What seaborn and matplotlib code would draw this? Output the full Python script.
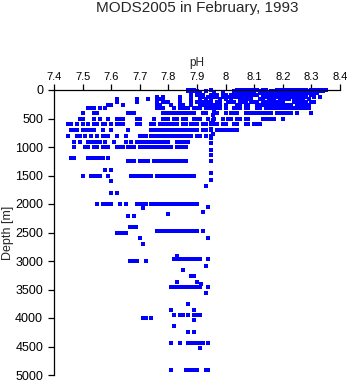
import matplotlib
matplotlib.use("Agg")
import matplotlib.pyplot as plt
import seaborn as sns
import pandas as pd

title = "MODS2005 in February, 1993"
x_label = "pH"
y_label = "Depth [m]"
x_ticks = [7.4, 7.5, 7.6, 7.7, 7.8, 7.9, 8.0, 8.1, 8.2, 8.3, 8.4]
x_tick_labels = ["7.4", "7.5", "7.6", "7.7", "7.8", "7.9", "8", "8.1", "8.2", "8.3", "8.4"]
y_ticks = [0, 500, 1000, 1500, 2000, 2500, 3000, 3500, 4000, 4500, 5000]

# pH observations per sampled depth (m)
ph_d0005 = [7.87, 7.88, 7.89, 7.95, 8.04, 8.05, 8.06, 8.07, 8.08, 8.09, 8.10, 8.11, 8.13, 8.14,
            8.18, 8.19, 8.20, 8.21, 8.22, 8.23, 8.24, 8.25, 8.26, 8.27, 8.28, 8.30, 8.31, 8.32,
            8.33, 8.34, 8.35]
ph_d0025 = [7.87, 7.89, 7.90, 7.93, 8.03, 8.04, 8.06, 8.07, 8.08, 8.09, 8.10, 8.12, 8.13, 8.14,
            8.16, 8.17, 8.18, 8.19, 8.20, 8.21, 8.22, 8.23, 8.24, 8.25, 8.26, 8.27, 8.28, 8.29,
            8.30, 8.31, 8.32, 8.33, 8.34]
ph_d0055 = [7.88, 7.90, 7.91, 7.96, 7.99, 8.03, 8.04, 8.05, 8.07, 8.08, 8.09, 8.10, 8.12, 8.13,
            8.15, 8.16, 8.17, 8.18, 8.19, 8.20, 8.21, 8.22, 8.23, 8.24, 8.25, 8.26, 8.27, 8.28,
            8.29, 8.31, 8.32]
ph_d0085 = [7.90, 7.92, 7.95, 7.97, 8.00, 8.02, 8.04, 8.05, 8.06, 8.07, 8.08, 8.10, 8.11, 8.13,
            8.14, 8.15, 8.16, 8.17, 8.18, 8.19, 8.20, 8.21, 8.22, 8.23, 8.24, 8.25, 8.26, 8.28, 8.30]
ph_d0125 = [7.76, 7.78, 7.84, 7.88, 7.91, 7.92, 7.94, 7.96, 7.97, 7.99, 8.00, 8.01, 8.02, 8.03,
            8.04, 8.08, 8.09, 8.13, 8.14, 8.16, 8.17, 8.18, 8.19, 8.20, 8.21, 8.22, 8.23, 8.24,
            8.25, 8.26, 8.27, 8.28, 8.31, 8.33]
ph_d0160 = [7.62, 7.69, 7.73, 7.76, 7.77, 7.78, 7.84, 7.88, 7.91, 7.93, 7.95, 7.98, 8.00, 8.02,
            8.05, 8.06, 8.07, 8.08, 8.09, 8.12, 8.13, 8.15, 8.16, 8.17, 8.19, 8.20, 8.21, 8.22,
            8.24, 8.25, 8.26, 8.27, 8.29]
ph_d0205 = [7.62, 7.69, 7.76, 7.78, 7.79, 7.80, 7.84, 7.88, 7.90, 7.91, 7.92, 7.93, 7.94, 7.95,
            7.97, 7.98, 8.01, 8.02, 8.03, 8.05, 8.06, 8.07, 8.09, 8.10, 8.11, 8.13, 8.14, 8.15,
            8.16, 8.17, 8.18, 8.19, 8.20, 8.24, 8.25, 8.26, 8.27, 8.28, 8.30, 8.31]
ph_d0260 = [7.59, 7.60, 7.64, 7.76, 7.77, 7.81, 7.84, 7.85, 7.88, 7.91, 7.92, 7.93, 7.94, 7.95,
            7.96, 7.97, 7.98, 8.00, 8.04, 8.05, 8.07, 8.08, 8.11, 8.12, 8.13, 8.14, 8.15, 8.16,
            8.17, 8.18, 8.19, 8.20, 8.21, 8.22, 8.23, 8.25, 8.26, 8.27, 8.28, 8.29]
ph_d0310 = [7.52, 7.53, 7.54, 7.56, 7.58, 7.76, 7.77, 7.78, 7.82, 7.84, 7.85, 7.86, 7.87, 7.89,
            7.90, 7.91, 7.93, 7.94, 7.95, 7.96, 7.97, 7.98, 8.00, 8.03, 8.04, 8.05, 8.07, 8.08,
            8.11, 8.12, 8.14, 8.15, 8.16, 8.17, 8.18, 8.19, 8.20, 8.21, 8.22, 8.23, 8.24, 8.25,
            8.26, 8.27, 8.28, 8.29]
ph_d0410 = [7.50, 7.54, 7.55, 7.66, 7.67, 7.68, 7.78, 7.79, 7.80, 7.81, 7.82, 7.83, 7.84, 7.85,
            7.86, 7.87, 7.88, 7.89, 7.92, 7.93, 7.96, 7.97, 8.00, 8.02, 8.03, 8.04, 8.07, 8.08,
            8.09, 8.10, 8.11, 8.12, 8.13, 8.14, 8.15, 8.16, 8.18, 8.19, 8.20, 8.21, 8.22, 8.23,
            8.25, 8.30]
ph_d0505 = [7.49, 7.50, 7.54, 7.56, 7.59, 7.62, 7.63, 7.64, 7.69, 7.70, 7.75, 7.78, 7.79, 7.80,
            7.82, 7.83, 7.85, 7.86, 7.89, 7.90, 7.91, 7.94, 7.96, 7.99, 8.01, 8.02, 8.04, 8.05,
            8.07, 8.08, 8.13, 8.14, 8.15, 8.16, 8.17, 8.20]
ph_d0600 = [7.45, 7.46, 7.48, 7.50, 7.52, 7.54, 7.55, 7.57, 7.58, 7.60, 7.62, 7.63, 7.64, 7.69,
            7.70, 7.74, 7.75, 7.77, 7.78, 7.79, 7.80, 7.81, 7.82, 7.83, 7.85, 7.86, 7.88, 7.89,
            7.90, 7.92, 7.93, 7.95, 7.96, 7.97, 7.99, 8.00, 8.03, 8.04, 8.07, 8.08, 8.10, 8.11, 8.12]
ph_d0700 = [7.46, 7.47, 7.48, 7.50, 7.51, 7.52, 7.53, 7.54, 7.57, 7.60, 7.66, 7.74, 7.75, 7.76,
            7.77, 7.78, 7.79, 7.80, 7.81, 7.82, 7.83, 7.84, 7.85, 7.86, 7.87, 7.88, 7.89, 7.90,
            7.92, 7.93, 7.95, 7.97, 7.98, 7.99, 8.00, 8.01, 8.02, 8.03, 8.04]
ph_d0805 = [7.45, 7.48, 7.49, 7.51, 7.53, 7.55, 7.57, 7.58, 7.59, 7.62, 7.65, 7.70, 7.71, 7.72,
            7.74, 7.75, 7.76, 7.77, 7.78, 7.79, 7.80, 7.81, 7.82, 7.83, 7.84, 7.85, 7.86, 7.87,
            7.88, 7.90, 7.91, 7.93, 7.95]
ph_d0905 = [7.47, 7.49, 7.52, 7.53, 7.54, 7.55, 7.56, 7.58, 7.61, 7.65, 7.67, 7.69, 7.70, 7.71,
            7.72, 7.73, 7.74, 7.75, 7.76, 7.77, 7.78, 7.79, 7.80, 7.83, 7.84, 7.85, 7.86, 7.87]
ph_d1005 = [7.47, 7.51, 7.52, 7.54, 7.55, 7.57, 7.58, 7.59, 7.62, 7.63, 7.64, 7.66, 7.67, 7.68,
            7.70, 7.71, 7.72, 7.73, 7.74, 7.75, 7.76, 7.77, 7.78, 7.79, 7.80, 7.81, 7.83, 7.84,
            7.85, 7.86]
ph_d1200 = [7.46, 7.47, 7.52, 7.53, 7.54, 7.55, 7.56, 7.57, 7.59]
ph_d1245 = [7.66, 7.67, 7.68, 7.70, 7.71, 7.72, 7.73, 7.75, 7.76, 7.77, 7.78, 7.79, 7.80, 7.81,
            7.82, 7.83, 7.84, 7.85, 7.86, 7.95]
ph_d1400 = [7.58, 7.60]
ph_d1500 = [7.50, 7.53, 7.54, 7.55, 7.56, 7.59, 7.67, 7.68, 7.69, 7.70, 7.71, 7.72, 7.73, 7.74,
            7.76, 7.77, 7.78, 7.79, 7.80, 7.81, 7.82, 7.83, 7.84, 7.85, 7.86, 7.87, 7.88, 7.89]
ph_d1595 = [7.60]
ph_d1680 = [7.93]
ph_d1805 = [7.60, 7.62]
ph_d1995 = [7.55, 7.57, 7.58, 7.59, 7.60, 7.63, 7.65, 7.69, 7.70, 7.71, 7.72, 7.74, 7.75, 7.76,
            7.77, 7.78, 7.79, 7.80, 7.81, 7.82, 7.83, 7.84, 7.85, 7.86, 7.87, 7.88, 7.89, 7.90]
ph_d2045 = [7.94]
ph_d2075 = [7.71]
ph_d2140 = [7.92]
ph_d2178 = [7.80]
ph_d2205 = [7.66, 7.68]
ph_d2400 = [7.665, 7.675, 7.685]
ph_d2470 = [7.76, 7.77, 7.78, 7.79, 7.80, 7.81, 7.82, 7.83, 7.84, 7.85, 7.86, 7.87, 7.88, 7.89,
            7.90, 7.92]
ph_d2500 = [7.62, 7.635, 7.645, 7.65]
ph_d2600 = [7.70, 7.94]
ph_d2710 = [7.71]
ph_d2905 = [7.83]
ph_d2962 = [7.82, 7.83, 7.84, 7.85, 7.86, 7.87, 7.88, 7.89, 7.90, 7.91, 7.94]
ph_d3000 = [7.665, 7.675, 7.685, 7.69, 7.72]
ph_d3080 = [7.93]
ph_d3155 = [7.85]
ph_d3255 = [7.88, 7.89]
ph_d3360 = [7.83, 7.90]
ph_d3410 = [7.915]
ph_d3450 = [7.81, 7.82, 7.83, 7.84, 7.85, 7.86, 7.87, 7.88, 7.89, 7.90, 7.91, 7.94]
ph_d3560 = [7.93]
ph_d3750 = [7.87]
ph_d3855 = [7.81, 7.89]
ph_d3945 = [7.82, 7.84, 7.85, 7.87, 7.89, 7.90, 7.91]
ph_d3995 = [7.71, 7.72, 7.74]
ph_d4040 = [7.89]
ph_d4135 = [7.82]
ph_d4245 = [7.87, 7.89]
ph_d4440 = [7.81, 7.84, 7.87, 7.88, 7.89, 7.90, 7.91, 7.92, 7.94]
ph_d4530 = [7.91]
ph_d4920 = [7.81, 7.86, 7.87, 7.88, 7.89, 7.90, 7.93, 7.94]

# single-station profile near pH 7.95
column_depth = [365, 430, 520, 585, 690, 765, 835, 935, 1050, 1140, 1460, 1577]
column_ph = [7.96, 7.955, 7.955, 7.95, 7.95, 7.955, 7.95, 7.95, 7.95, 7.95, 7.95, 7.95]

levels = [
    (5, ph_d0005), (25, ph_d0025), (55, ph_d0055), (85, ph_d0085), (125, ph_d0125),
    (160, ph_d0160), (205, ph_d0205), (260, ph_d0260), (310, ph_d0310), (410, ph_d0410),
    (505, ph_d0505), (600, ph_d0600), (700, ph_d0700), (805, ph_d0805), (905, ph_d0905),
    (1005, ph_d1005), (1200, ph_d1200), (1245, ph_d1245), (1400, ph_d1400), (1500, ph_d1500),
    (1595, ph_d1595), (1680, ph_d1680), (1805, ph_d1805), (1995, ph_d1995), (2045, ph_d2045),
    (2075, ph_d2075), (2140, ph_d2140), (2178, ph_d2178), (2205, ph_d2205), (2400, ph_d2400),
    (2470, ph_d2470), (2500, ph_d2500), (2600, ph_d2600), (2710, ph_d2710), (2905, ph_d2905),
    (2962, ph_d2962), (3000, ph_d3000), (3080, ph_d3080), (3155, ph_d3155), (3255, ph_d3255),
    (3360, ph_d3360), (3410, ph_d3410), (3450, ph_d3450), (3560, ph_d3560), (3750, ph_d3750),
    (3855, ph_d3855), (3945, ph_d3945), (3995, ph_d3995), (4040, ph_d4040), (4135, ph_d4135),
    (4245, ph_d4245), (4440, ph_d4440), (4530, ph_d4530), (4920, ph_d4920),
]

records = []
for depth, phs in levels:
    for v in phs:
        records.append({"pH": v, "Depth": depth})
for depth, v in zip(column_depth, column_ph):
    records.append({"pH": v, "Depth": depth})
df = pd.DataFrame(records)

sns.set_style("ticks")
plt.rcParams["font.family"] = ["Liberation Sans", "DejaVu Sans"]

fig = plt.figure(figsize=(3.5, 3.84), dpi=100)
ax = fig.add_axes([54 / 350, 9 / 384, 286 / 350, 285 / 384])

sns.scatterplot(data=df, x="pH", y="Depth", ax=ax, marker="s", s=6,
                color="#0000ff", linewidth=0, legend=False, clip_on=False)

ax.set_xlim(7.4, 8.4)
ax.set_ylim(5000, 0)
ax.xaxis.tick_top()
ax.xaxis.set_label_position("top")
ax.set_xticks(x_ticks)
ax.set_xticklabels(x_tick_labels)
ax.set_yticks(y_ticks)
ax.set_yticklabels([str(v) for v in y_ticks])

for side in ("right", "bottom"):
    ax.spines[side].set_visible(False)
for side in ("left", "top"):
    ax.spines[side].set_linewidth(0.9)
    ax.spines[side].set_color("black")

ax.tick_params(axis="x", direction="out", length=4.3, width=0.9, pad=1.5,
               labelsize=8, colors="black")
ax.tick_params(axis="y", direction="out", length=4.3, width=0.9, pad=3.5,
               labelsize=9, colors="black")

ax.set_xlabel(x_label, fontsize=8.5, labelpad=4)
ax.set_ylabel(y_label, fontsize=9, labelpad=1)
fig.text(197 / 350, 1 - 8 / 384, title, ha="center", va="center", fontsize=11)

fig.savefig("out.png", dpi=100)
